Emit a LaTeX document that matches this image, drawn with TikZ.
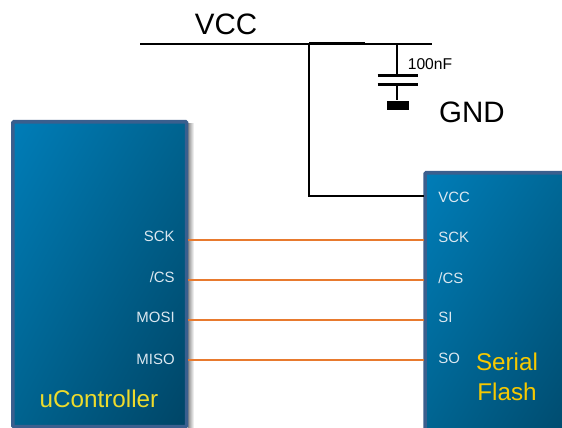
\documentclass[tikz,border=0pt]{standalone}
\usepackage{fontspec}
\setmainfont{Liberation Sans}
\usepackage{tikz}
\usetikzlibrary{calc,shadings}
\definecolor{chipedge}{HTML}{3A5F8E}
\definecolor{chiplight}{HTML}{007DB8}
\definecolor{chipmid}{HTML}{00638F}
\definecolor{chipdark}{HTML}{004566}
\definecolor{pintext}{HTML}{DCE8F0}
\definecolor{wirecol}{HTML}{E87A2E}
\definecolor{titlecol}{HTML}{EEDB2C}
\definecolor{flashcol}{HTML}{F7C900}
\tikzset{
  chipbox/.style={draw=chipedge, line width=2pt, rounded corners=0.6pt, inner sep=0pt,
    upper left=chiplight, upper right=chipmid, lower left=chipmid, lower right=chipdark},
  pinlabel/.style={text=pintext, font=\fontsize{8.5}{10}\selectfont, inner sep=0pt},
  chiptitle/.style={text=titlecol, font=\fontsize{13.8}{15}\selectfont, inner sep=0pt},
  netlabel/.style={font=\fontsize{16.8}{19}\selectfont, inner sep=0pt},
  wire/.style={wirecol, line width=1.6pt},
  power/.style={black, line width=1.35pt},
  plate/.style={black, line width=2pt}
}
\begin{document}
\begin{tikzpicture}[x=0.02cm, y=-0.02cm]
      \clip (0,0) rectangle (562,428);
      \fill[white] (0,0) rectangle (562,428);
      % shadow of the left chip
      \shade[left color=black!45, right color=white] (188,124) rectangle (194,428);
      % chips
      \node[chipbox, minimum width=3.48cm, minimum height=6.1cm, anchor=north west] (mcu) at (11,120) {};
      \node[chipbox, minimum width=3.4cm, minimum height=5.4cm, anchor=north west] (flash) at (423.3,171) {};
      % pin ends
      \coordinate (mcuSCK) at (188,240);
      \coordinate (mcuCS) at (188,280);
      \coordinate (mcuMOSI) at (188,320);
      \coordinate (mcuMISO) at (188,360);
      \coordinate (flashVCC) at (423.5,196);
      \coordinate (flashSCK) at (423.5,240);
      \coordinate (flashCS) at (423.5,280);
      \coordinate (flashSI) at (423.5,320);
      \coordinate (flashSO) at (423.5,360);
      \draw[wire] (mcuSCK) -- (flashSCK);
      \draw[wire] (mcuCS) -- (flashCS);
      \draw[wire] (mcuMOSI) -- (flashSI);
      \draw[wire] (mcuMISO) -- (flashSO);
      % supply rail and capacitor
      \coordinate (railL) at (140,44);
      \coordinate (railR) at (432,44);
      \coordinate (tapV) at (309,44);
      \coordinate (railM) at (365,44);
      \coordinate (tapC) at (397,44);
      \coordinate (plateA) at (397,75.5);
      \coordinate (plateB) at (397,84.5);
      \draw[power] (railL) -- (railR);
      \draw[power, line width=1.7pt] (tapV) -- (railM);
      \draw[power, line join=miter] (tapV) |- (flashVCC);
      \draw[power] (tapC) -- (plateA);
      \draw[plate] (377.5,75.5) -- (418,75.5);
      \draw[plate] (377.5,84.5) -- (418,84.5);
      \node[fill=black, minimum width=0.44cm, minimum height=0.19cm, inner sep=0pt] (gndbar) at (398,105.5) {};
      \draw[power] (plateB) -- (plateB |- gndbar.north);
      \node[netlabel] (vcctext) at (226,24) {VCC};
      \node[netlabel] (gndtext) at (472,112) {GND};
      \node[font=\fontsize{8.9}{10}\selectfont, inner sep=0pt] (captext) at (430,64) {100nF};
      % pin names
      \node[pinlabel, anchor=east] (lblSCK) at (175,236) {SCK};
      \node[pinlabel, anchor=east] (lblCS) at (175,277) {/CS};
      \node[pinlabel, anchor=east] (lblMOSI) at (175,317) {MOSI};
      \node[pinlabel, anchor=east] (lblMISO) at (175,359) {MISO};
      \node[pinlabel, anchor=west] (lblVCC) at (438,197) {VCC};
      \node[pinlabel, anchor=west] (lblFSCK) at (438,237.5) {SCK};
      \node[pinlabel, anchor=west] (lblFCS) at (438,278) {/CS};
      \node[pinlabel, anchor=west] (lblSI) at (438,317) {SI};
      \node[pinlabel, anchor=west] (lblSO) at (438,358) {SO};
      \node[chiptitle] (mcutitle) at (99,399) {uController};
      \node[chiptitle, text=flashcol] (flashtitleA) at (507,362) {Serial};
      \node[chiptitle, text=flashcol] (flashtitleB) at (507,392) {Flash};
    \end{tikzpicture}
\end{document}
